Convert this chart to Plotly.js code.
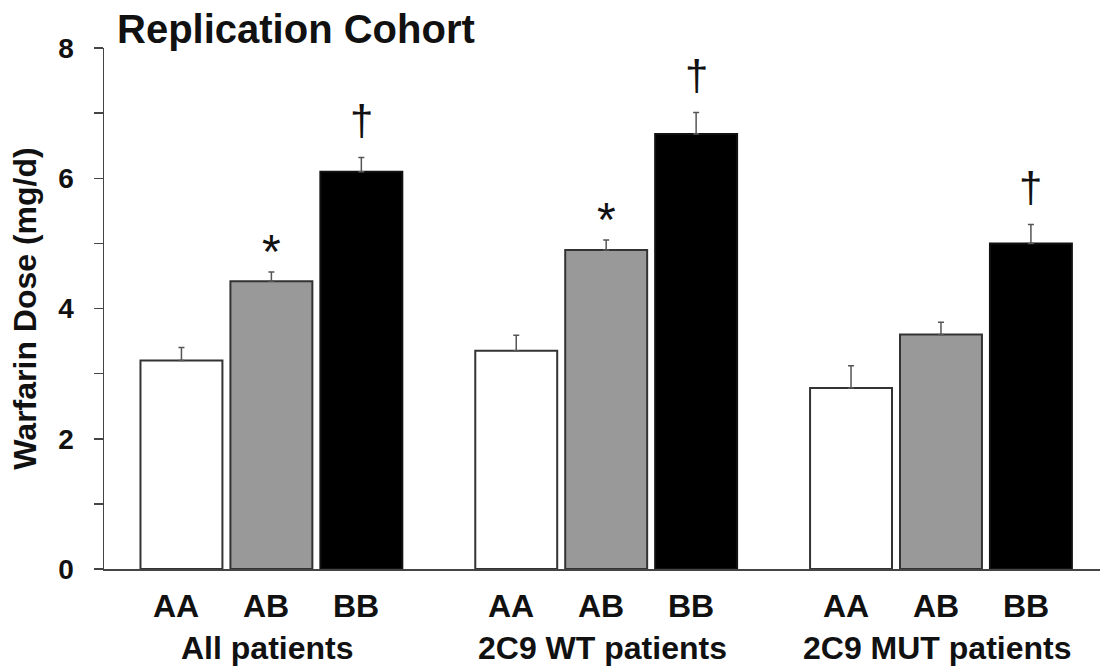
<!DOCTYPE html>
<html>
<head>
<meta charset="utf-8">
<script src="https://cdn.plot.ly/plotly-3.0.1.min.js"></script>
<style>html,body{margin:0;padding:0;background:#fff;}#chart{width:1101px;height:668px;}</style>
</head>
<body>
<div id="chart"></div>
<script>
// ---- data ----
const groups = ['All patients', '2C9 WT patients', '2C9 MUT patients'];
const genotypes = ['AA', 'AB', 'BB'];
const doseAA = [3.20, 3.35, 2.78];
const doseAB = [4.42, 4.90, 3.60];
const doseBB = [6.10, 6.68, 5.00];
const errAA = [0.20, 0.24, 0.34];
const errAB = [0.14, 0.15, 0.19];
const errBB = [0.22, 0.33, 0.29];
const sigAA = ['', '', ''];
const sigAB = ['*', '*', ''];
const sigBB = ['\u2020', '\u2020', '\u2020'];
const yTickVals = [0, 1, 2, 3, 4, 5, 6, 7, 8];
const yTickText = ['0', '', '2', '', '4', '', '6', '', '8'];
const chartTitle = 'Replication Cohort';
const yTitle = 'Warfarin Dose (mg/d)';

// ---- styling ----
const FONT = 'Liberation Sans, Arial, Helvetica, sans-serif';
const BARGAP = 0.194;
const BARGROUPGAP = 0.089;
const series = [
  {name: genotypes[0], y: doseAA, err: errAA, sig: sigAA, fill: '#ffffff', line: '#333333'},
  {name: genotypes[1], y: doseAB, err: errAB, sig: sigAB, fill: '#999999', line: '#333333'},
  {name: genotypes[2], y: doseBB, err: errBB, sig: sigBB, fill: '#000000', line: '#111111'}
];

const traces = series.map(s => ({
  type: 'bar',
  name: s.name,
  x: groups,
  y: s.y,
  marker: {color: s.fill, line: {color: s.line, width: 2}},
  error_y: {type: 'data', symmetric: false, array: s.err, arrayminus: s.err.map(() => 0),
            color: '#555555', thickness: 1.5, width: 3},
  hoverinfo: 'skip'
}));

const slot = (1 - BARGAP) / series.length;
const annotations = [];
series.forEach((s, k) => {
  const off = (k - (series.length - 1) / 2) * slot;
  groups.forEach((g, gi) => {
    // genotype tick label
    annotations.push({
      xref: 'x', yref: 'paper', x: gi + off, y: 0, xanchor: 'center', yanchor: 'middle',
      yshift: -37, xshift: -5, showarrow: false, text: s.name,
      font: {family: FONT, size: 32, color: '#111', weight: 'bold'}
    });
    if (s.sig[gi]) {
      const isStar = s.sig[gi] === '*';
      annotations.push({
        xref: 'x', yref: 'y', x: gi + off, y: s.y[gi] + s.err[gi],
        xanchor: 'center', yanchor: 'bottom', yshift: isStar ? -8 : 11, showarrow: false,
        text: s.sig[gi],
        font: {family: FONT, size: isStar ? 48 : 42, color: '#111'}
      });
    }
  });
});
groups.forEach((g, gi) => {
  annotations.push({
    xref: 'x', yref: 'paper', x: gi, y: 0, xanchor: 'center', yanchor: 'middle',
    yshift: -79, xshift: -4, showarrow: false, text: g,
    font: {family: FONT, size: 32, color: '#111', weight: 'bold'}
  });
});

const layout = {
  width: 1101, height: 668,
  margin: {l: 104, r: 1, t: 48, b: 99},
  paper_bgcolor: '#ffffff', plot_bgcolor: '#ffffff',
  showlegend: false,
  barmode: 'group', bargap: BARGAP, bargroupgap: BARGROUPGAP,
  font: {family: FONT, color: '#111'},
  title: {text: chartTitle, xref: 'container', yref: 'container',
          x: 117 / 1101, xanchor: 'left', y: 1 - 29 / 668, yanchor: 'middle',
          font: {family: FONT, size: 40, color: '#111', weight: 'bold'}},
  xaxis: {type: 'category', range: [-0.5, 2.475], showticklabels: false, ticks: '',
          showline: true, linecolor: '#444', linewidth: 1.5, showgrid: false, zeroline: false,
          fixedrange: true},
  yaxis: {range: [0, 8], tickmode: 'array', tickvals: yTickVals, ticktext: yTickText,
          ticks: 'outside', ticklen: 9, tickwidth: 1.5, tickcolor: '#444',
          showline: true, linecolor: '#444', linewidth: 1.5, showgrid: false, zeroline: false,
          ticklabelstandoff: 14,
          tickfont: {family: FONT, size: 28, color: '#111', weight: 'bold'},
          title: {text: yTitle, standoff: 12, font: {family: FONT, size: 32, color: '#111', weight: 'bold'}},
          fixedrange: true},
  annotations: annotations
};

Plotly.newPlot('chart', traces, layout, {displayModeBar: false, staticPlot: true});
</script>
</body>
</html>
